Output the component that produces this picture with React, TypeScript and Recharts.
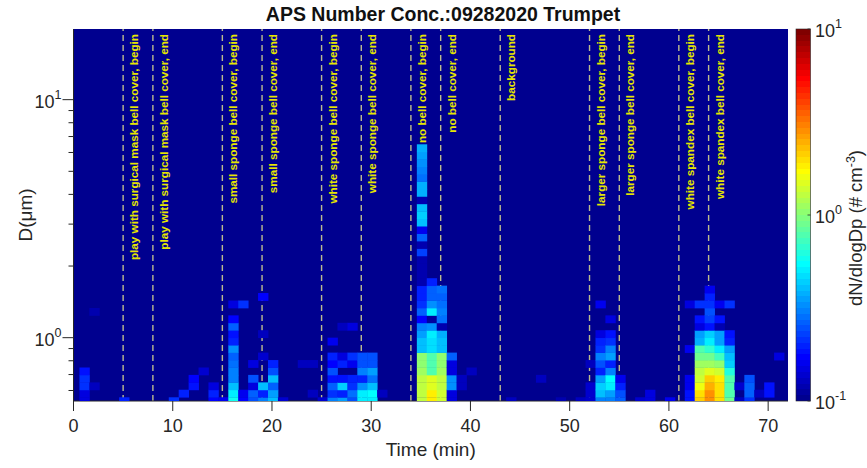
import React from 'react';
import { ComposedChart, Scatter, XAxis, YAxis, CartesianGrid, ReferenceLine } from 'recharts';

const W = 867;
const H = 468;
const PLOT_LEFT = 73.5;
const PLOT_RIGHT = 788;
const PLOT_TOP = 29;
const PLOT_BOTTOM = 401;
const FONT = '"Liberation Sans", Arial, Helvetica, sans-serif';
const INK = '#262626';

// axes
const timeDomain = [0, 72];
const timeTicks = [0, 10, 20, 30, 40, 50, 60, 70];
const sizeTicks = [0.6, 0.7, 0.8, 0.9, 1, 2, 3, 4, 5, 6, 7, 8, 9, 10];
const colorTicks = [-1, 0, 1]; // log10 of dN/dlogDp

// APS channel midpoints (um), 32 per decade
const sizeChannels = [
  0.542, 0.583, 0.626, 0.673, 0.723, 0.777, 0.835, 0.898, 0.965, 1.037,
  1.114, 1.197, 1.286, 1.382, 1.486, 1.596, 1.715, 1.843, 1.981, 2.129,
  2.288, 2.458, 2.642, 2.839, 3.051, 3.278, 3.523, 3.786, 4.068, 4.371,
  4.698, 5.048, 5.425, 5.829, 6.264, 6.732, 7.234, 7.774, 8.354, 8.977,
  9.647, 10.37, 11.14, 11.97, 12.86, 13.82, 14.86, 15.96, 17.15, 18.43, 19.81,
];

// event markers
const eventTimes = [5, 8, 15, 19, 25, 29, 34, 37, 43, 52, 55, 61, 64];
const eventLabels = [
  'play with surgical mask bell cover, begin',
  'play with surgical mask bell cover, end',
  'small sponge bell cover, begin',
  'small sponge bell cover, end',
  'white sponge bell cover, begin',
  'white sponge bell cover, end',
  'no bell cover, begin',
  'no bell cover, end',
  'background',
  'larger sponge bell cover, begin',
  'larger sponge bell cover, end',
  'white spandex bell cover, begin',
  'white spandex bell cover, end',
];

// dN/dlogDp (# cm-3) per one-minute scan, smallest channel first; 0 = below the colour floor
const m01 = [0.15, 0.15, 0.22, 0.22, 0.19];
const m02 = [0, 0, 0.13, 0, 0, 0, 0, 0, 0, 0, 0, 0, 0.12];
const m05 = [0.2];
const m10 = [0.21];
const m11 = [0, 0.2];
const m12 = [0, 0, 0.18, 0.17];
const m13 = [0, 0, 0, 0, 0.14];
const m14 = [0.17, 0.2, 0.15];
const m15 = [0.16];
const m16 = [0.6, 0.5, 0.4, 0.3, 0.3, 0.28, 0.27, 0.33, 0.2, 0.18, 0.26, 0.17, 0, 0.15];
const m17 = [0.17, 0.16, 0, 0, 0, 0, 0, 0, 0, 0, 0, 0, 0, 0.22];
const m18 = [0.24, 0.26, 0.15, 0.24, 0, 0.15];
const m19 = [0.3, 0.2, 0.42, 0, 0, 0, 0.14, 0, 0, 0.13, 0, 0, 0, 0, 0.17];
const m20 = [0.4, 0.36, 0.26, 0.42, 0.24, 0.2];
const m21 = [0.14];
const m23 = [0, 0, 0, 0, 0, 0.13];
const m24 = [0, 0.13, 0, 0, 0, 0.13];
const m25 = [0.14];
const m26 = [0.3, 0.22, 0.27, 0.19, 0.24, 0.17, 0.2, 0, 0.16];
const m27 = [0.35, 0.2, 0.45, 0.18, 0, 0.2, 0.15, 0, 0, 0, 0.13];
const m28 = [0.25, 0.28, 0.22, 0.2, 0, 0.16, 0.22, 0, 0, 0, 0.15];
const m29 = [0.5, 0.5, 0.33, 0.2, 0.3, 0.24, 0.24];
const m30 = [0.5, 0.55, 0.4, 0.28, 0.36, 0.24, 0.24];
const m31 = [0, 0.13];
const m35 = [
  1.3, 1.3, 1.3, 1.3, 1.15, 1.0, 1.0, 0.42, 0.42, 0.35, 0.3, 0.17, 0.26, 0.22, 0.2, 0.2, 0.12,
  0.12, 0.12, 0.12, 0.23, 0.12, 0.27, 0.16, 0.42, 0.45, 0.4, 0.12, 0.38, 0.38, 0.28, 0.3, 0.33, 0.35, 0.38,
];
const m36 = [1.78, 1.78, 1.5, 1.5, 0.75, 0.75, 0.75, 0.46, 0.46, 0.52, 0.32, 0.11, 0.5, 0.33, 0.26, 0.26, 0.2];
const m37 = [1.4, 1.4, 1.3, 1.3, 1.15, 1.0, 1.0, 0.4, 0.4, 0.38, 0.12, 0.28, 0.3, 0.28, 0.26, 0.28];
const m38 = [0.15, 0.15, 0.32, 0.32, 0.15, 0.15, 0.27];
const m39 = [0, 0, 0.13, 0.13];
const m40 = [0, 0, 0, 0, 0.13];
const m44 = [0.13];
const m47 = [0, 0, 0, 0.13];
const m49 = [0.12];
const m51 = [0.13];
const m52 = [0.14, 0.14, 0.14, 0, 0, 0.13];
const m53 = [0.3, 0.42, 0.45, 0.35, 0.2, 0.25, 0.3, 0.22, 0.2, 0.15, 0, 0, 0, 0.16];
const m54 = [0.3, 0.35, 0.5, 0.55, 0.3, 0.2, 0.35, 0.3, 0.22, 0.18, 0, 0.15];
const m55 = [0.27, 0.24, 0.2, 0.16];
const m57 = [0.14];
const m58 = [0.15, 0.15];
const m60 = [0.16];
const m62 = [0.18, 0.18, 0.16, 0.16, 0, 0, 0, 0.16, 0, 0, 0, 0, 0, 0.15];
const m63 = [2.1, 1.95, 1.65, 1.4, 1.3, 1.15, 0.92, 0.75, 0.39, 0.36, 0.15, 0.19, 0, 0.21];
const m64 = [2.75, 2.75, 2.5, 2.1, 1.5, 1.08, 0.87, 0.65, 0.5, 0.45, 0.19, 0.23, 0.25, 0.22, 0.2, 0.16];
const m65 = [1.95, 1.95, 1.95, 1.85, 1.4, 1.0, 0.7, 0.5, 0.36, 0.34, 0.12, 0.19, 0, 0.16];
const m66 = [0.87, 0.8, 0.75, 0.75, 0.62, 0.45, 0.42, 0.36, 0.2, 0.19, 0, 0, 0, 0.21];
const m67 = [0.13, 0, 0.14];
const m68 = [0.22, 0.27, 0.27, 0.25];
const m69 = [0, 0.13];
const m70 = [0, 0.18, 0.18];
const m71 = [0, 0, 0, 0, 0, 0, 0.15];

const scans: [number, number[]][] = [
  [1, m01], [2, m02], [5, m05], [10, m10], [11, m11], [12, m12], [13, m13], [14, m14],
  [15, m15], [16, m16], [17, m17], [18, m18], [19, m19], [20, m20], [21, m21], [23, m23],
  [24, m24], [25, m25], [26, m26], [27, m27], [28, m28], [29, m29], [30, m30], [31, m31],
  [35, m35], [36, m36], [37, m37], [38, m38], [39, m39], [40, m40], [44, m44], [47, m47],
  [49, m49], [51, m51], [52, m52], [53, m53], [54, m54], [55, m55], [57, m57], [58, m58],
  [60, m60], [62, m62], [63, m63], [64, m64], [65, m65], [66, m66], [67, m67], [68, m68],
  [69, m69], [70, m70], [71, m71],
];

// scan midpoints sit 0.1 min after the minute mark
const cells = scans.flatMap(([minute, values]) =>
  values
    .map((v, i) => ({ t: minute + 0.1, d: sizeChannels[i], v }))
    .filter((c) => c.v > 0)
);

const Y_MIN = sizeChannels[0];
const Y_MAX = sizeChannels[sizeChannels.length - 1];
const CELL_W = (PLOT_RIGHT - PLOT_LEFT) / (timeDomain[1] - timeDomain[0]);
const CELL_H = (PLOT_BOTTOM - PLOT_TOP) / Math.log10(Y_MAX / Y_MIN) / 32;

// MATLAB jet(64)
function jetRGB(k: number) {
  const u = (j: number) => (j <= 0 ? 0 : j <= 16 ? j / 16 : j <= 31 ? 1 : j <= 47 ? (48 - j) / 16 : 0);
  const r = Math.round(u(k - 24) * 255);
  const g = Math.round(u(k - 8) * 255);
  const b = Math.round(u(k + 8) * 255);
  return `rgb(${r},${g},${b})`;
}
function jetColor(v: number) {
  const c = (Math.log10(v) - colorTicks[0]) / (colorTicks[2] - colorTicks[0]);
  const k = Math.min(64, Math.max(1, Math.floor(c * 64) + 1));
  return jetRGB(k);
}

const isDecade = (v: number) => Math.abs(Math.log10(v) - Math.round(Math.log10(v))) < 1e-6;

const HeatCell = (p: any) => (
  <rect
    x={p.cx - CELL_W / 2}
    y={p.cy - CELL_H / 2}
    width={CELL_W + 0.4}
    height={CELL_H + 0.4}
    fill={jetColor(p.payload.v)}
  />
);

const LeftTick = (p: any) => {
  const v = p.payload.value;
  const major = isDecade(v);
  return (
    <g>
      <line x1={p.x - (major ? 11 : 5)} x2={p.x} y1={p.y} y2={p.y} stroke={INK} strokeWidth={1} />
      {major && (
        <text x={p.x - 12} y={p.y + 8} textAnchor="end" fontSize={18} fill={INK} fontFamily={FONT}>
          10<tspan dy={-9} fontSize={12.5}>{Math.round(Math.log10(v))}</tspan>
        </text>
      )}
    </g>
  );
};

const RightTick = (p: any) => {
  const major = isDecade(p.payload.value);
  return <line x1={p.x} x2={p.x + (major ? 8 : 5)} y1={p.y} y2={p.y} stroke={INK} strokeWidth={1} />;
};

const BottomTick = (p: any) => (
  <g>
    <line x1={p.x} x2={p.x} y1={p.y} y2={p.y + 10} stroke={INK} strokeWidth={1} />
    <text x={p.x} y={p.y + 31} textAnchor="middle" fontSize={18} fill={INK} fontFamily={FONT}>
      {p.payload.value}
    </text>
  </g>
);

const TopTick = (p: any) => <line x1={p.x} x2={p.x} y1={p.y - 8} y2={p.y} stroke={INK} strokeWidth={1} />;

const EventText = ({ x, text }: { x: number; text: string }) => {
  const tx = x + 15;
  const ty = PLOT_TOP + 5;
  return (
    <text
      x={tx}
      y={ty}
      transform={`rotate(-90 ${tx} ${ty})`}
      textAnchor="end"
      fontSize={11.7}
      fontWeight="bold"
      fill="#e6e600"
      fontFamily={FONT}
    >
      {text}
    </text>
  );
};

function Colorbar() {
  const x = 796;
  const w = 14.5;
  const top = PLOT_TOP;
  const h = PLOT_BOTTOM - PLOT_TOP;
  const stops = [];
  for (let k = 1; k <= 64; k++) {
    stops.push(<stop key={`a${k}`} offset={(k - 1) / 64} stopColor={jetRGB(k)} />);
    stops.push(<stop key={`b${k}`} offset={k / 64} stopColor={jetRGB(k)} />);
  }
  return (
    <g>
      <defs>
        <linearGradient id="jetbar" x1="0" y1="1" x2="0" y2="0">
          {stops}
        </linearGradient>
      </defs>
      <rect x={x} y={top} width={w} height={h} fill="url(#jetbar)" stroke={INK} strokeWidth={0.6} />
      {colorTicks.map((c) => {
        const y = top + h * (1 - (c - colorTicks[0]) / (colorTicks[2] - colorTicks[0]));
        return (
          <g key={c}>
            <line x1={x + w - 3} x2={x + w} y1={y} y2={y} stroke={INK} strokeWidth={0.8} />
            <text x={x + 19} y={y + 8} fontSize={18} fill={INK} fontFamily={FONT}>
              10<tspan dy={-9} fontSize={12.5}>{c}</tspan>
            </text>
          </g>
        );
      })}
      <text
        x={862}
        y={228}
        transform="rotate(-90 862 228)"
        textAnchor="middle"
        fontSize={18.5}
        fill={INK}
        fontFamily={FONT}
      >
        dN/dlogDp (# cm<tspan dy={-7} fontSize={12.5}>-3</tspan>
        <tspan dy={7}>)</tspan>
      </text>
    </g>
  );
}

export default function App() {
  return (
    <div style={{ position: 'absolute', left: 0, top: 0, width: W, height: H, background: '#fff' }}>
      <ComposedChart
        width={W}
        height={H}
        margin={{ top: PLOT_TOP, right: W - PLOT_RIGHT, bottom: 0, left: 0 }}
      >
        <CartesianGrid fill={jetColor(0)} stroke="none" horizontal={false} vertical={false} />
        <XAxis
          dataKey="t"
          type="number"
          domain={timeDomain}
          ticks={timeTicks}
          interval={0}
          allowDataOverflow
          height={H - PLOT_BOTTOM}
          tickSize={0}
          tickMargin={0}
          tickLine={false}
          tick={<BottomTick />}
          axisLine={{ stroke: INK, strokeWidth: 1 }}
        />
        <XAxis
          xAxisId="top"
          orientation="top"
          type="number"
          domain={timeDomain}
          ticks={timeTicks}
          interval={0}
          allowDataOverflow
          height={0}
          tickSize={0}
          tickMargin={0}
          tickLine={false}
          tick={<TopTick />}
          axisLine={{ stroke: INK, strokeWidth: 1 }}
        />
        <YAxis
          dataKey="d"
          type="number"
          scale="log"
          domain={[Y_MIN, Y_MAX]}
          ticks={sizeTicks}
          interval={0}
          allowDataOverflow
          width={PLOT_LEFT}
          tickSize={0}
          tickMargin={0}
          tickLine={false}
          tick={<LeftTick />}
          axisLine={{ stroke: INK, strokeWidth: 1 }}
        />
        <YAxis
          yAxisId="right"
          orientation="right"
          type="number"
          scale="log"
          domain={[Y_MIN, Y_MAX]}
          ticks={sizeTicks}
          interval={0}
          allowDataOverflow
          width={0}
          tickSize={0}
          tickMargin={0}
          tickLine={false}
          tick={<RightTick />}
          axisLine={{ stroke: INK, strokeWidth: 1 }}
        />
        <Scatter data={cells} shape={HeatCell} isAnimationActive={false} />
        {eventTimes.map((t, i) => (
          <ReferenceLine
            key={t}
            x={t}
            stroke="#bcbc8e"
            strokeWidth={1.4}
            strokeDasharray="6 4"
            label={(lp: any) => <EventText x={lp.viewBox.x} text={eventLabels[i]} />}
          />
        ))}
      </ComposedChart>
      <svg
        width={W}
        height={H}
        style={{ position: 'absolute', left: 0, top: 0, pointerEvents: 'none' }}
      >
        <text
          x={443}
          y={21}
          textAnchor="middle"
          fontSize={19.5}
          fontWeight="bold"
          fill="#111"
          fontFamily={FONT}
        >
          APS Number Conc.:09282020 Trumpet
        </text>
        <text x={(PLOT_LEFT + PLOT_RIGHT) / 2} y={456} textAnchor="middle" fontSize={19} fill={INK} fontFamily={FONT}>
          Time (min)
        </text>
        <text x={32} y={215} transform="rotate(-90 32 215)" textAnchor="middle" fontSize={19} fill={INK} fontFamily={FONT}>
          D(μm)
        </text>
        <Colorbar />
      </svg>
    </div>
  );
}
